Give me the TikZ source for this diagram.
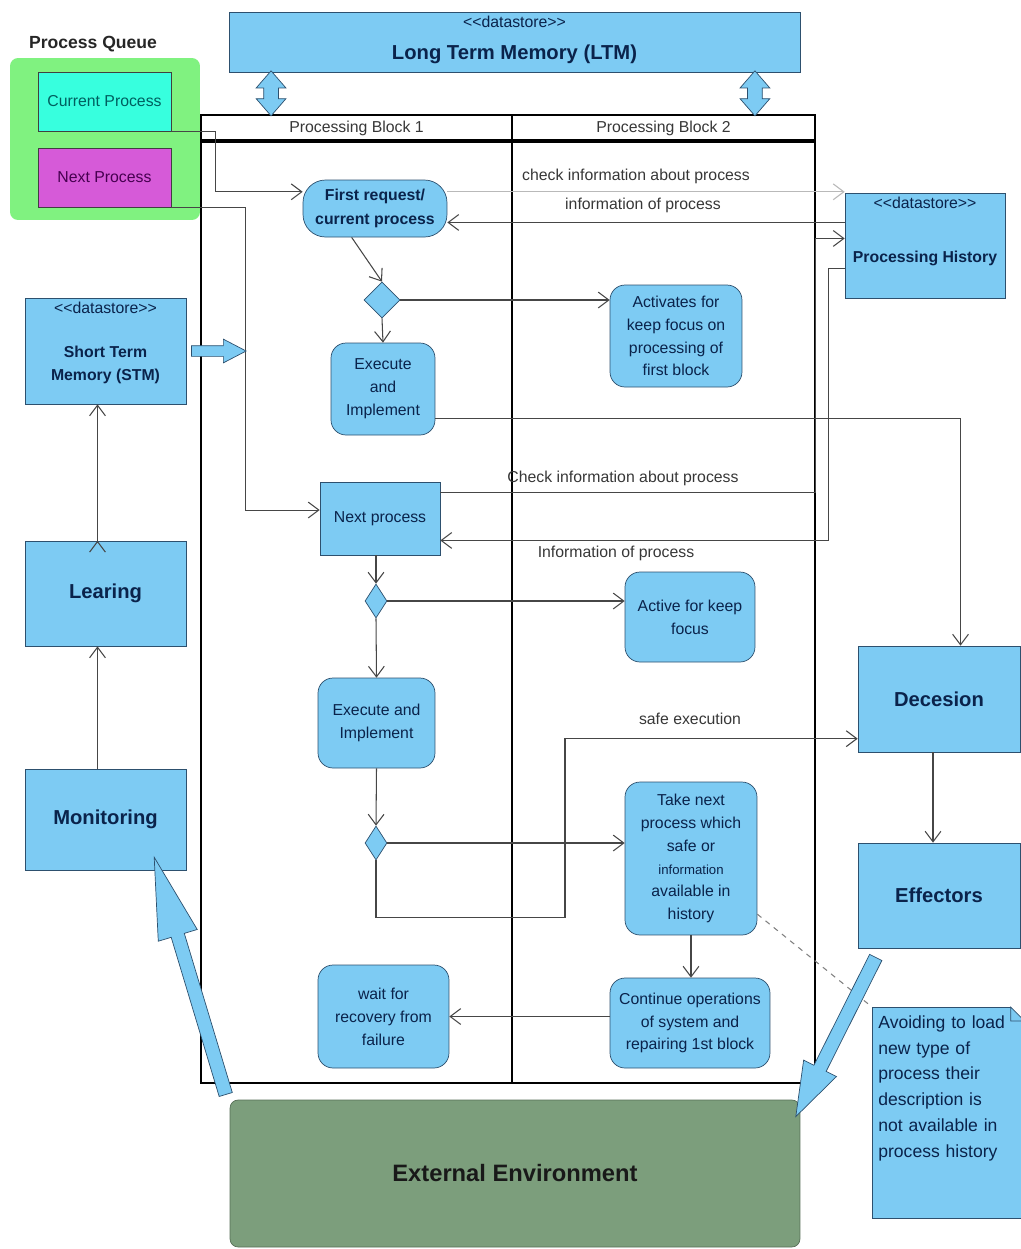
\documentclass[tikz,border=0pt]{standalone}
\usepackage{fontspec}
\setmainfont{Liberation Sans}
\usetikzlibrary{shapes.geometric, shapes.arrows, arrows.meta, calc}
\definecolor{boxblue}{RGB}{125,203,243}
\definecolor{boxline}{RGB}{45,80,110}
\definecolor{boxtext}{RGB}{10,35,75}
\definecolor{lanetext}{RGB}{55,55,55}
\definecolor{queuegreen}{RGB}{128,242,128}
\definecolor{curcyan}{RGB}{55,255,222}
\definecolor{curtext}{RGB}{0,95,95}
\definecolor{nextmagenta}{RGB}{214,90,216}
\definecolor{nexttext}{RGB}{70,0,80}
\definecolor{envgreen}{RGB}{124,158,124}
\definecolor{flowgray}{RGB}{70,70,70}
\newcommand{\dstore}{<\kern0pt<datastore>\kern0pt>}

\begin{document}
\begin{tikzpicture}[x=0.02cm, y=-0.02cm, >={Straight Barb[length=6pt,width=9pt]}]
	\tikzstyle{store} = [rectangle, fill=boxblue, draw=boxline, text=boxtext, align=center, font=\fontsize{9}{13.5}\selectfont\bfseries, thin]
	\tikzstyle{bigstore} = [store, font=\fontsize{11.5}{14}\selectfont\bfseries]
	\tikzstyle{stereo} = [anchor=north, inner sep=2pt, text=boxtext, text height=7pt, text depth=1pt, font=\fontsize{9}{11}\selectfont]
	\tikzstyle{act} = [store, rounded corners=0.3cm, inner sep=2pt, font=\fontsize{9}{13}\selectfont]
	\tikzstyle{choice} = [diamond, fill=boxblue, draw=boxline, inner sep=0pt, thin]
	\tikzstyle{lane} = [rectangle, draw=black, line width=1.1pt, text=lanetext, font=\fontsize{9}{11}\selectfont]
	\tikzstyle{lbl} = [text=lanetext, font=\fontsize{9}{11}\selectfont]
	\tikzstyle{flow} = [->, draw=flowgray, line width=0.6pt]
	\tikzstyle{fat} = [single arrow, fill=boxblue, draw=boxline, inner xsep=0pt, thin]
	\tikzstyle{fatboth} = [double arrow, fill=boxblue, draw=boxline, inner xsep=0pt, thin]
	\useasboundingbox (0,0) rectangle (1021,1249);

	% process queue
	\node[fill=queuegreen, rounded corners=0.16cm, minimum width=3.8cm, minimum height=3.24cm] (queue) at (105,139) {};
	\node[text=black!85, font=\fontsize{10}{12}\selectfont\bfseries] (queue_title) at (93,44) {Process Queue};
	\node[store, fill=curcyan, draw=black!75, text=curtext, font=\fontsize{9}{11}\selectfont, minimum width=2.66cm, minimum height=1.18cm] (cur) at (104.5,101.5) {Current Process};
	\node[store, fill=nextmagenta, draw=black!75, text=nexttext, font=\fontsize{9}{11}\selectfont, minimum width=2.66cm, minimum height=1.18cm] (nxt) at (104.5,177.5) {Next Process};

	% swimlanes
	\node[lane, minimum width=6.22cm, minimum height=18.86cm] (lane1) at (356.5,611.5) {};
	\node[lane, minimum width=6.06cm, minimum height=18.86cm] (lane2) at (663.5,611.5) {};
	\node[lane, minimum width=6.22cm, minimum height=0.46cm] (head1) at (356.5,128.5) {Processing Block 1};
	\node[lane, minimum width=6.06cm, minimum height=0.46cm] (head2) at (663.5,128.5) {Processing Block 2};

	% memories and outer blocks
	\node[bigstore, minimum width=11.42cm, minimum height=1.2cm, text height=22pt, label={[stereo]north:\dstore}] (ltm) at (514.5,42) {Long Term Memory (LTM)};
	\node[store, minimum width=3.2cm, minimum height=2.1cm, text height=21.4pt, label={[stereo]north:\dstore}] (hist) at (925,245.5) {Processing History};
	\node[store, minimum width=3.22cm, minimum height=2.12cm, text height=36pt, label={[stereo]north:\dstore}] (stm) at (105.5,351) {Short Term\\Memory (STM)};
	\node[bigstore, minimum width=3.22cm, minimum height=2.1cm] (learn) at (105.5,593.5) {Learing};
	\node[bigstore, minimum width=3.22cm, minimum height=2.02cm] (mon) at (105.5,819.5) {Monitoring};
	\node[bigstore, minimum width=3.24cm, minimum height=2.12cm] (decide) at (939,699) {Decesion};
	\node[bigstore, minimum width=3.24cm, minimum height=2.1cm] (eff) at (939,895.5) {Effectors};
	\node[bigstore, fill=envgreen, draw=envgreen!70!black, text=black!90, rounded corners=0.16cm, font=\fontsize{13.5}{16}\selectfont\bfseries, minimum width=11.4cm, minimum height=2.94cm] (env) at (515,1173.5) {External Environment};

	% processing block 1
	\node[store, rounded corners=0.45cm, minimum width=2.88cm, minimum height=1.14cm] (first) at (375,208.5) {First request/\\current process};
	\node[choice, minimum width=0.72cm, minimum height=0.72cm] (dia1) at (382,300) {};
	\node[act, minimum width=2.08cm, minimum height=1.84cm] (exec1) at (383,389) {Execute\\and\\Implement};
	\node[store, font=\fontsize{9}{11}\selectfont, minimum width=2.4cm, minimum height=1.46cm] (nproc) at (380,518.5) {Next process};
	\node[choice, minimum width=0.44cm, minimum height=0.68cm] (dia2) at (376,601) {};
	\node[act, minimum width=2.34cm, minimum height=1.8cm] (exec2) at (376.5,723) {Execute and\\Implement};
	\node[choice, minimum width=0.44cm, minimum height=0.68cm] (dia3) at (376,843) {};
	\node[act, minimum width=2.62cm, minimum height=2.06cm] (wait) at (383.5,1016.5) {wait for\\recovery from\\failure};

	% processing block 2
	\node[act, minimum width=2.64cm, minimum height=2.04cm] (keep1) at (676,336) {Activates for\\keep focus on\\processing of\\first block};
	\node[act, minimum width=2.6cm, minimum height=1.8cm] (focus) at (690,617) {Active for keep\\focus};
	\node[act, minimum width=2.64cm, minimum height=3.06cm] (take) at (691,858.5) {Take next\\process which\\safe or\\{\fontsize{7.5}{13}\selectfont information}\\available in\\history};
	\node[act, minimum width=3.2cm, minimum height=1.8cm] (cont) at (690,1023) {Continue operations\\of system and\\repairing 1st block};

	\node[store, anchor=north west, align=left, font=\fontsize{10}{14.7}\selectfont, text width=2.8cm, inner xsep=0.12cm, inner ysep=0.16cm, minimum width=3.04cm, minimum height=4.22cm, text depth=3.64cm] (note) at (872,1007) {Avoiding to load\\new type of\\process their\\description is\\not available in\\process history};
	\fill[white] ([xshift=-0.28cm]note.north east) -- (note.north east) -- ([yshift=-0.28cm]note.north east) -- cycle;
	\draw[boxline, thin] ([xshift=-0.28cm]note.north east) -- ([yshift=-0.28cm]note.north east) -- ([xshift=-0.28cm,yshift=-0.28cm]note.north east) -- cycle;

	% labels on the flows
	\node[lbl] (lbl_check1) at (636,176) {check information about process};
	\node[lbl] (lbl_info1) at (643,205) {information of process};
	\node[lbl] (lbl_check2) at (623,478) {Check information about process};
	\node[lbl] (lbl_info2) at (616,553) {Information of process};
	\node[lbl] (lbl_safe) at (690,719) {safe execution};

	\draw[flow]
	(first.231) edge (dia1.north)
	(dia1.south) edge (exec1.north)
	(dia1.east) edge (dia1.east -| keep1.west)
	(dia2.north |- nproc.south) edge (dia2.north)
	(dia2.east) edge (dia2.east -| focus.west)
	(dia2.south) edge (exec2.north)
	(exec2.south) edge (dia3.north)
	(dia3.east) edge (dia3.east -| take.west)
	(take.south) edge (take.south |- cont.north)
	(cont.west |- wait.east) edge (wait.east)
	(hist.164) edge (hist.164 -| first.east)
	([xshift=-0.12cm]decide.south) edge ([xshift=-0.12cm]eff.north)
	([xshift=-0.16cm]mon.north) edge ([xshift=-0.16cm]learn.south)
	([xshift=-0.16cm]learn.north) edge ([xshift=-0.16cm]stm.south)
	;
	\draw[flow] (cur.south east) -- ++(44,0) |- (first.167);
	\draw[flow] (nxt.south east) -- ++(74,0) |- (nproc.172);
	\draw[flow] (exec1.331) -| (decide.68);
	\draw[flow] (nproc.23) -- (nproc.23 -| lane2.east) |- (hist.175);
	\draw[flow] (hist.196) -- ++(-16,0) |- (nproc.340);
	\draw[flow] (dia3.south) -- ++(0,57) -- ++(189,0) |- (decide.206);
	\draw[flow, draw=gray!55] (first.13) -- (first.13 -| hist.west);
	\draw[dashed, draw=gray, line width=0.6pt] (take.320) -- (note.north west);

	% block arrows
	\coordinate (stm_tip) at (241,351);
	\coordinate (ltm_port1) at ($(head1.north west)+(71,0)$);
	\coordinate (ltm_port2) at ($(head2.north east)+(-61,0)$);
	\path let \p1=($(stm_tip)-(stm.east)$) in (stm.east) -- (stm_tip)
		node[fat, midway, sloped, allow upside down, minimum height={veclen(\x1,\y1)}, inner ysep=0.1cm, minimum width=0.46cm, single arrow head extend=0.13cm, single arrow tip angle=55] (stm_in) {};
	\path let \p1=($(mon.316)-(env.167)$) in (env.167) -- (mon.316)
		node[fat, midway, sloped, allow upside down, minimum height={veclen(\x1,\y1)}, inner ysep=0.13cm, minimum width=0.8cm, single arrow head extend=0.27cm, single arrow tip angle=28] (sense) {};
	\path let \p1=($(env.13)-(eff.222)$) in (eff.222) -- (env.13)
		node[fat, midway, sloped, allow upside down, minimum height={veclen(\x1,\y1)}, inner ysep=0.13cm, minimum width=0.72cm, single arrow head extend=0.23cm, single arrow tip angle=37.5] (act_out) {};
	\path (ltm_port1 |- ltm.south) -- (ltm_port1)
		node[fatboth, midway, sloped, minimum height=0.9cm, inner ysep=0.14cm, minimum width=0.58cm, double arrow head extend=0.15cm, double arrow tip angle=82] (ltm_io1) {};
	\path (ltm_port2 |- ltm.south) -- (ltm_port2)
		node[fatboth, midway, sloped, minimum height=0.9cm, inner ysep=0.14cm, minimum width=0.58cm, double arrow head extend=0.15cm, double arrow tip angle=82] (ltm_io2) {};
\end{tikzpicture}
\end{document}
